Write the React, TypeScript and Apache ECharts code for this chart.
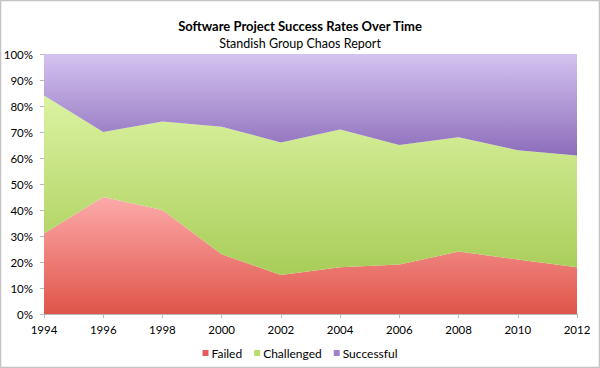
import React, { useEffect, useRef } from "react";
import * as echarts from "echarts";

const years = ["1994", "1996", "1998", "2000", "2002", "2004", "2006", "2008", "2010", "2012"];
const failed = [31, 45, 40, 23, 15, 18, 19, 24, 21, 18];
const challenged = [53, 25, 34, 49, 51, 53, 46, 44, 42, 43];
const successful = [16, 30, 26, 28, 34, 29, 35, 32, 37, 39];

const FONT = "Lato";

function grad(top: string, bottom: string) {
  return new echarts.graphic.LinearGradient(0, 0, 0, 1, [
    { offset: 0, color: top },
    { offset: 1, color: bottom },
  ]);
}

export default function App() {
  const ref = useRef<HTMLDivElement>(null);
  useEffect(() => {
    if (!ref.current) return;
    const chart = echarts.init(ref.current, undefined, { renderer: "svg" });
    const redG = grad("#fcaaaa", "#df5549");
    const greenG = grad("#dcf3a2", "#a8cd58");
    const purpleG = grad("#d4c3f0", "#8d6dbb");
    const mk = (name: string, data: number[], color: any, legendColor: string) => ({
      name,
      type: "line",
      stack: "total",
      data,
      symbol: "none",
      lineStyle: { width: 0 },
      areaStyle: { color, opacity: 1 },
      itemStyle: { color: legendColor },
      emphasis: { disabled: true },
    });
    chart.setOption({
      animation: false,
      backgroundColor: "#ffffff",
      title: [
        {
          text: "Software Project Success Rates Over Time",
          left: "center",
          top: 14,
          textStyle: { fontFamily: FONT, fontSize: 13, fontWeight: "bold", color: "#000" },
        },
        {
          text: "Standish Group Chaos Report",
          left: "center",
          top: 32,
          textStyle: { fontFamily: FONT, fontSize: 12.5, fontWeight: "normal", color: "#000" },
        },
      ],
      graphic: [
        {
          type: "rect",
          shape: { x: 0.5, y: 0.5, width: 599, height: 367 },
          style: { fill: "none", stroke: "#c4c4c4", lineWidth: 1.5 },
          silent: true,
        },
      ],
      legend: {
        data: ["Failed", "Challenged", "Successful"],
        left: "center",
        top: 342,
        itemWidth: 6,
        itemHeight: 6,
        itemGap: 12,
        icon: "rect",
        textStyle: { fontFamily: FONT, fontSize: 12, color: "#000", padding: [0, 0, 0, -2] },
      },
      grid: { left: 44, right: 23, top: 54, bottom: 54, containLabel: false },
      xAxis: {
        type: "category",
        data: years,
        boundaryGap: false,
        axisLine: { lineStyle: { color: "#b8b8b8", width: 1 } },
        axisTick: { show: true, length: 4, lineStyle: { color: "#b8b8b8" } },
        axisLabel: { fontFamily: FONT, fontSize: 11.5, color: "#000", margin: 9 },
      },
      yAxis: {
        type: "value",
        min: 0,
        max: 100,
        interval: 10,
        axisLine: { show: true, lineStyle: { color: "#b8b8b8", width: 1 } },
        axisTick: { show: true, length: 4, lineStyle: { color: "#b8b8b8" } },
        splitLine: { show: false },
        axisLabel: { fontFamily: FONT, fontSize: 11.5, color: "#000", margin: 11, formatter: "{value}%" },
      },
      series: [
        mk("Failed", failed, redG, "#e65c5c"),
        mk("Challenged", challenged, greenG, "#b8dc6e"),
        mk("Successful", successful, purpleG, "#9f83cc"),
      ],
    });
    return () => chart.dispose();
  }, []);
  return <div ref={ref} style={{ position: "fixed", left: 0, top: 0, width: 600, height: 368 }} />;
}
